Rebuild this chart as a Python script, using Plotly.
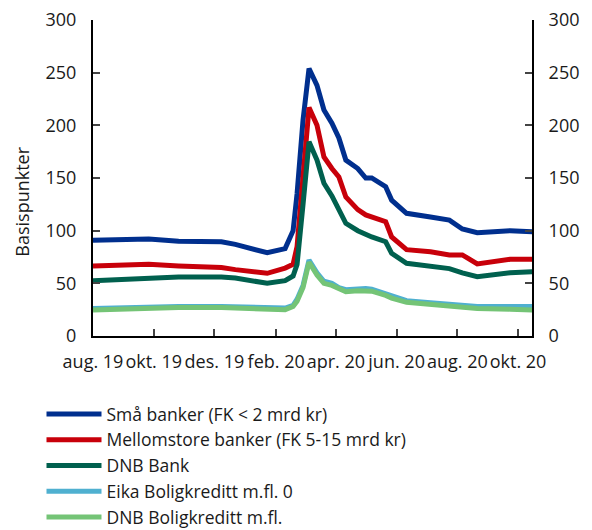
import plotly.graph_objects as go

dates = ["2019-08-01", "2019-09-26", "2019-10-26", "2019-12-08", "2019-12-22",
         "2020-01-23", "2020-02-10", "2020-02-18", "2020-02-22", "2020-02-28",
         "2020-03-05", "2020-03-13", "2020-03-20", "2020-03-28", "2020-04-04",
         "2020-04-11", "2020-04-23", "2020-05-01", "2020-05-07", "2020-05-21",
         "2020-05-27", "2020-06-11", "2020-07-05", "2020-07-24", "2020-08-06",
         "2020-08-21", "2020-09-23", "2020-10-16"]

sma_banker = [91, 92, 90, 89.5, 87, 79, 83, 100, 135, 205, 254, 238, 214.6, 202, 188,
              167, 159, 150, 150, 141.7, 129, 116.5, 113, 110, 101.6, 98, 100, 99]
mellomstore = [66.5, 68, 66.5, 65, 63, 59.5, 64.5, 68, 85, 150, 217, 200, 170, 159, 151,
               132, 120, 115, 113, 108.5, 94, 82, 80, 77, 77, 68.4, 72.8, 72.8]
dnb_bank = [52.5, 55.4, 56, 56, 55, 50, 52.5, 57, 68, 125, 184.5, 167, 145, 133, 120,
            107, 100, 96, 94, 89.5, 78.5, 69, 65.8, 64, 60, 56.3, 60, 61]
eika = [26, 27.5, 28, 28, 27.5, 26, 26.5, 29, 35, 48, 72, 60, 52, 50, 46,
        44, 45, 45, 44.5, 40, 38, 33.5, 31.5, 30, 29, 28, 28, 28]
dnb_bolig = [24.7, 26.5, 27, 27, 26.5, 24.5, 25, 28, 33, 46, 70, 58, 50, 48, 45,
             42, 43, 43, 42.5, 38.5, 36, 32, 30, 28.5, 27.5, 26, 25.5, 24.7]

names = ["Små banker (FK < 2 mrd kr)", "Mellomstore banker (FK 5-15 mrd kr)",
         "DNB Bank", "Eika Boligkreditt m.fl. 0", "DNB Boligkreditt m.fl."]
colors = ["#002f8e", "#c8000a", "#00604e", "#4fb0d0", "#74c476"]
series = [sma_banker, mellomstore, dnb_bank, eika, dnb_bolig]

tick_dates = ["2019-08-01", "2019-10-01", "2019-12-01", "2020-02-01",
              "2020-04-01", "2020-06-01", "2020-08-01", "2020-10-01"]
tick_text = ["aug. 19", "okt. 19", "des. 19", "feb. 20",
             "apr. 20", "jun. 20", "aug. 20", "okt. 20"]
y_title = "Basispunkter"

FONT = "Open Sans"
FS = 18
LFS = 17.5
TXT = "#1a1a1a"
fig = go.Figure()
for n, c, s in zip(names, colors, series):
    fig.add_trace(go.Scatter(x=dates, y=s, name=n, mode="lines",
                             line=dict(color=c, width=5), legendgroup=n))
# invisible trace to activate the right axis
fig.add_trace(go.Scatter(x=dates, y=dnb_bolig, yaxis="y2", mode="lines",
                         line=dict(width=0), opacity=0, showlegend=False,
                         hoverinfo="skip"))

axis_common = dict(range=[0, 300], dtick=50, ticks="inside", ticklen=7,
                   tickwidth=2, showline=True, linewidth=2, linecolor="black",
                   showgrid=False, zeroline=False, automargin=False,
                   ticklabelstandoff=11,
                   tickfont=dict(family=FONT, size=FS, color=TXT))

fig.update_layout(
    width=592, height=530,
    margin=dict(l=92.5, r=59.5, t=20, b=194, autoexpand=False),
    paper_bgcolor="white", plot_bgcolor="white",
    font=dict(family=FONT, size=FS, color=TXT),
    xaxis=dict(type="date", range=["2019-08-01", "2020-10-15"],
               tickvals=tick_dates, ticktext=tick_text, tickangle=0,
               ticks="inside", ticklen=7, tickwidth=2,
               showline=True, linewidth=2, linecolor="black",
               showgrid=False, zeroline=False, automargin=False,
               ticklabelstandoff=8,
               tickfont=dict(family=FONT, size=FS, color=TXT)),
    yaxis=dict(**axis_common),
    yaxis2=dict(**axis_common, overlaying="y", side="right"),
    showlegend=True,
    legend=dict(xref="container", yref="container", x=0.0701, y=1 - 396 / 530,
                xanchor="left", yanchor="top",
                font=dict(family=FONT, size=LFS, color=TXT),
                itemwidth=55, tracegroupgap=0, bgcolor="rgba(0,0,0,0)"),
    annotations=[dict(text=y_title, textangle=-90, showarrow=False,
                      xref="paper", yref="paper", x=(21 - 92.5) / 440, y=0.424,
                      xanchor="center", yanchor="middle",
                      font=dict(family=FONT, size=FS, color=TXT))],
)

fig.write_html("out.html")
